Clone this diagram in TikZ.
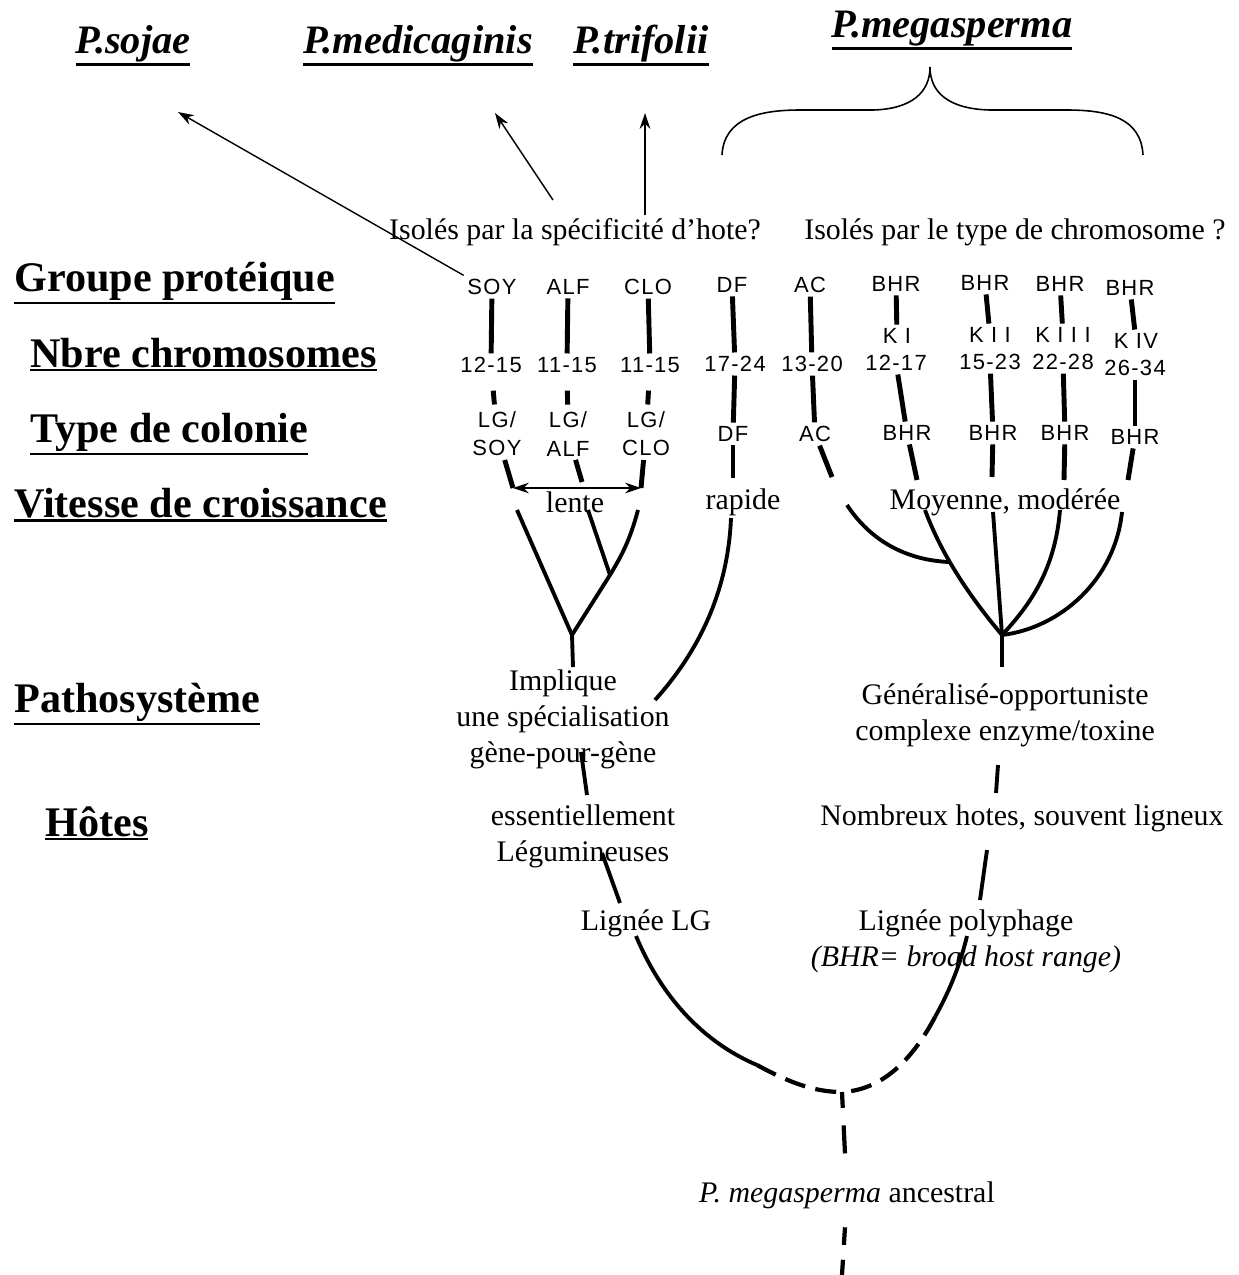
\documentclass[tikz,border=0pt]{standalone}
\usepackage{fontspec}
\setmainfont{Liberation Serif}
\newfontfamily\codefont[LetterSpace=6]{Liberation Sans}
\usetikzlibrary{arrows.meta, positioning}

\newcommand{\ulabel}[1]{\leavevmode\vtop{\hbox{#1}\kern1pt\hrule height 1.3pt}}

\tikzset{
    rowtitle/.style={anchor=base west, inner sep=0pt, font=\fontsize{24}{28}\selectfont\bfseries},
    species/.style={anchor=base, inner sep=0pt, font=\fontsize{23}{27}\selectfont\bfseries\itshape},
    note/.style={align=center, inner sep=1pt, font=\fontsize{17}{20.5}\selectfont},
    code/.style={align=center, inner sep=2pt, font=\codefont\fontsize{12.5}{16}\selectfont},
    seg/.style={line width=2.8pt},
    shortseg/.style={seg, shorten <=8pt, shorten >=2pt},
    branch/.style={line width=2.2pt},
    dashbranch/.style={line width=2.4pt, dash pattern=on 12pt off 6pt},
    pointer/.style={line width=0.8pt, -{Stealth[length=9pt, width=6pt]}},
}

\begin{document}
\begin{tikzpicture}[x=0.02cm, y=-0.02cm]
    \useasboundingbox (0,0) rectangle (1238,1275);

    % Species names
    \node[species] (sojae) at (133,53) {\ulabel{P.sojae}};
    \node[species] (medic) at (418,53) {\ulabel{P.medicaginis}};
    \node[species] (trifo) at (641,53) {\ulabel{P.trifolii}};
    \node[species] (megas) at (952,37) {\ulabel{P.megasperma}};

    % Brace under P.megasperma
    \draw[line width=0.9pt] (722,155) .. controls (724,118) and (760,110) .. (800,110) -- (873,110)
        .. controls (912,109) and (930,92) .. (930,67) .. controls (930,92) and (948,109) .. (990,110)
        -- (1067,110) .. controls (1108,110) and (1141,118) .. (1143,155);

    % Isolation questions
    \node[note] (isohote) at (575,232) {Isolés par la spécificité d'hote?};
    \node[note] (isochrom) at (1015,232) {Isolés par le type de chromosome ?};

    % Row titles
    \node[rowtitle] (tgroupe) at (14,291) {\ulabel{Groupe protéique}};
    \node[rowtitle] (tnbre) at (30,367) {\ulabel{Nbre chromosomes}};
    \node[rowtitle] (ttype) at (30,442) {\ulabel{Type de colonie}};
    \node[rowtitle] (tvitesse) at (14,517) {\ulabel{Vitesse de croissance}};
    \node[rowtitle] (tpatho) at (14,712) {\ulabel{Pathosystème}};
    \node[rowtitle] (thotes) at (45,836) {\ulabel{Hôtes}};

    % Protein groups
    \node[code] (soy) at (492,287) {SOY};
    \node[code] (alf) at (568,287) {ALF};
    \node[code] (clo) at (648,287) {CLO};
    \node[code] (df) at (732,285) {DF};
    \node[code] (ac) at (810,285) {AC};
    \node[code] (bhra) at (896,284) {BHR};
    \node[code] (bhrb) at (985,283) {BHR};
    \node[code] (bhrc) at (1060,284) {BHR};
    \node[code] (bhrd) at (1130,288) {BHR};

    % Chromosome numbers
    \node[code] (ka) at (897,336) {K I};
    \node[code] (kb) at (990,335) {K I I};
    \node[code] (kc) at (1063,335) {K I I I};
    \node[code] (kd) at (1136,341) {K IV};
    \node[code] (nsoy) at (491,365) {12-15};
    \node[code] (nalf) at (567,365) {11-15};
    \node[code] (nclo) at (650,365) {11-15};
    \node[code] (ndf) at (735,364) {17-24};
    \node[code] (nac) at (812,364) {13-20};
    \node[code] (nbhra) at (896,363) {12-17};
    \node[code] (nbhrb) at (990,362) {15-23};
    \node[code] (nbhrc) at (1063,362) {22-28};
    \node[code] (nbhrd) at (1135,368) {26-34};

    % Colony types
    \node[code] (csoy) at (497,434) {LG/\\SOY};
    \node[code] (calf) at (568,434) {LG/\\ALF};
    \node[code] (cclo) at (646,434) {LG/\\CLO};
    \node[code] (cdf) at (733,434) {DF};
    \node[code] (cac) at (815,434) {AC};
    \node[code] (cbhra) at (907,433) {BHR};
    \node[code] (cbhrb) at (993,433) {BHR};
    \node[code] (cbhrc) at (1065,433) {BHR};
    \node[code] (cbhrd) at (1135,437) {BHR};

    % Arrows to the species
    \coordinate (sojaetip) at (178,112);
    \coordinate (medictail) at (553,200);
    \coordinate (medictip) at (495,113);
    \coordinate (trifotail) at (645,215);
    \coordinate (trifotip) at (645,113);
    \draw[pointer] (soy.north west) -- (sojaetip);
    \draw[pointer] (medictail) -- (medictip);
    \draw[pointer] (trifotail) -- (trifotip);

    % Column segments
    \draw[seg] (soy) -- (nsoy);
    \draw[seg] (alf) -- (nalf);
    \draw[seg] (clo) -- (nclo);
    \draw[seg] (df) -- (ndf);
    \draw[seg] (ac) -- (nac);
    \draw[seg] (bhra) -- (ka);
    \draw[seg] (bhrb) -- (kb);
    \draw[seg] (bhrc) -- (kc);
    \draw[seg] (bhrd) -- (kd);
    \draw[shortseg] (nsoy) -- (csoy);
    \draw[shortseg] (nalf) -- (calf);
    \draw[shortseg] (nclo) -- (cclo);
    \draw[seg] (ndf) -- (cdf);
    \draw[seg] (nac) -- (cac);
    \draw[seg] (nbhra) -- (cbhra);
    \draw[seg] (nbhrb) -- (cbhrb);
    \draw[seg] (nbhrc) -- (cbhrc);
    \draw[seg] (nbhrd) -- (cbhrd);

    % Segments below colony types
    \coordinate (lentel) at (513,488);
    \coordinate (lenter) at (641,488);
    \coordinate (alfend) at (582,482);
    \coordinate (dfend) at (733,478);
    \coordinate (acend) at (832,477);
    \coordinate (bhraend) at (917,480);
    \coordinate (bhrbend) at (992,477);
    \coordinate (bhrcend) at (1064,480);
    \coordinate (bhrdend) at (1128,480);
    \draw[seg] (csoy) -- (lentel);
    \draw[seg] (calf) -- (alfend);
    \draw[seg] (cclo) -- (lenter);
    \draw[seg] (cdf) -- (dfend);
    \draw[seg] (cac) -- (acend);
    \draw[seg] (cbhra) -- (bhraend);
    \draw[seg] (cbhrb) -- (bhrbend);
    \draw[seg] (cbhrc) -- (bhrcend);
    \draw[seg] (cbhrd) -- (bhrdend);
    \draw[line width=1pt, {Stealth[length=9pt, width=6pt]}-{Stealth[length=9pt, width=6pt]}] (lentel) -- (lenter);

    % Growth speed
    \node[note] (lente) at (575,502) {lente};
    \node[note] (rapide) at (743,502) {rapide};
    \node[note] (moyenne) at (1005,502) {Moyenne, modérée};

    % LG tree
    \coordinate (lgl) at (517,510);
    \coordinate (lgm) at (588,510);
    \coordinate (lgr) at (638,510);
    \coordinate (lgk) at (610,575);
    \coordinate (lgroot) at (572,635);
    \coordinate (lgend) at (573,667);
    \draw[branch] (lgl) -- (lgroot) -- (lgend);
    \draw[branch] (lgm) -- (lgk);
    \draw[branch] (lgr) .. controls (630,540) and (622,555) .. (lgk) -- (lgroot);

    % Fast branch
    \coordinate (rapt) at (731,518);
    \coordinate (rape) at (655,700);
    \draw[branch] (rapt) .. controls (728,590) and (700,650) .. (rape);

    % BHR tree
    \coordinate (acbr) at (847,505);
    \coordinate (acjoin) at (949,562);
    \coordinate (bat) at (925,510);
    \coordinate (bbt) at (993,512);
    \coordinate (bct) at (1060,510);
    \coordinate (bdt) at (1122,512);
    \coordinate (bhrk) at (1002,635);
    \coordinate (bhrroot) at (1002,667);
    \draw[branch] (acbr) .. controls (870,540) and (905,560) .. (acjoin);
    \draw[branch] (bat) .. controls (938,545) and (960,585) .. (bhrk);
    \draw[branch] (bbt) -- (bhrk);
    \draw[branch] (bct) .. controls (1055,570) and (1030,605) .. (bhrk);
    \draw[branch] (bdt) .. controls (1115,580) and (1060,628) .. (bhrk);
    \draw[branch] (bhrk) -- (bhrroot);

    % Pathosystems and hosts
    \node[note] (implique) at (563,719) {Implique\\une spécialisation\\gène-pour-gène};
    \node[note] (generalise) at (1005,715) {Généralisé-opportuniste\\complexe enzyme/toxine};
    \node[note] (hostlg) at (583,836) {essentiellement\\Légumineuses};
    \node[note] (hostbhr) at (1022,818) {Nombreux hotes, souvent ligneux};
    \coordinate (lga) at (581,752);
    \coordinate (lgb) at (587,795);
    \coordinate (lgc) at (602,853);
    \coordinate (lgd) at (620,903);
    \coordinate (bhra2) at (998,765);
    \coordinate (bhrb2) at (996,793);
    \coordinate (bhrc2) at (987,850);
    \coordinate (bhrd2) at (980,900);
    \draw[branch] (lga) -- (lgb);
    \draw[branch] (lgc) -- (lgd);
    \draw[branch] (bhra2) -- (bhrb2);
    \draw[branch] (bhrc2) -- (bhrd2);

    % Lineages
    \node[note] (lignlg) at (646,923) {Lignée LG};
    \node[note] (lignbhr) at (966,941) {Lignée polyphage\\\textit{(BHR= broad host range)}};
    \coordinate (lgtop) at (636,936);
    \coordinate (lgmid) at (757,1065);
    \coordinate (bhrtop) at (967,936);
    \coordinate (bhrmid) at (935,1017);
    \coordinate (anc) at (842,1092);
    \draw[branch] (lgtop) .. controls (665,1005) and (710,1045) .. (lgmid);
    \draw[dashbranch] (lgmid) .. controls (790,1083) and (815,1092) .. (anc);
    \draw[branch] (bhrtop) .. controls (960,965) and (950,990) .. (bhrmid);
    \draw[dashbranch] (bhrmid) .. controls (915,1055) and (885,1090) .. (anc);

    % Ancestor
    \node[note] (ancestral) at (847,1195) {\textit{P. megasperma} ancestral};
    \coordinate (ancroot) at (842,1275);
    \draw[line width=2.4pt, dash pattern=on 9pt off 10pt on 16pt off 20pt] (anc) -- (ancestral);
    \draw[line width=2.4pt, dash pattern=on 0pt off 9.5pt on 10pt off 8.5pt on 12pt off 20pt] (ancestral) -- (ancroot);
\end{tikzpicture}
\end{document}
